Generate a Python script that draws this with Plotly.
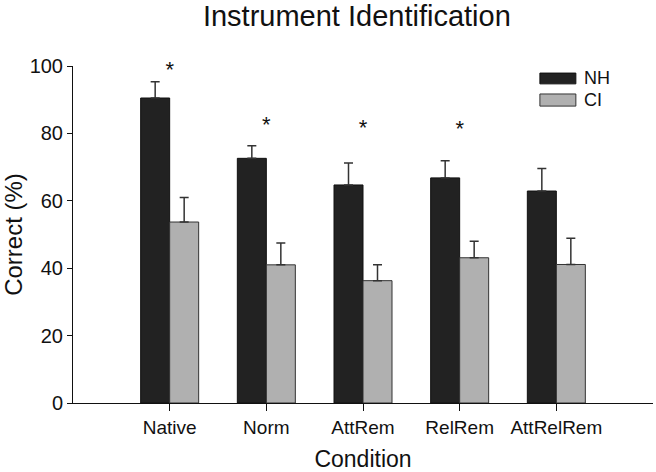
import plotly.graph_objects as go

categories = ["Native", "Norm", "AttRem", "RelRem", "AttRelRem"]
nh_values = [90.5, 72.6, 64.7, 66.8, 62.9]
nh_errors = [4.8, 3.7, 6.5, 5.1, 6.7]
ci_values = [53.7, 41.0, 36.3, 43.1, 41.1]
ci_errors = [7.3, 6.5, 4.7, 4.9, 7.8]
star_categories = ["Native", "Norm", "AttRem", "RelRem"]
star_heights = [98.4, 82.0, 81.3, 80.9]
y_ticks = [0, 20, 40, 60, 80, 100]

FONT = "Liberation Sans, Arial, sans-serif"
NH_COLOR = "#222222"
CI_COLOR = "#b0b0b0"

fig = go.Figure()
fig.add_trace(go.Bar(
    name="NH", x=categories, y=nh_values,
    marker=dict(color=NH_COLOR, line=dict(color="#111111", width=1)),
    error_y=dict(type="data", symmetric=False, array=nh_errors,
                 arrayminus=[0] * len(nh_errors), color="#333333",
                 thickness=1.5, width=4.5),
))
fig.add_trace(go.Bar(
    name="CI", x=categories, y=ci_values,
    marker=dict(color=CI_COLOR, line=dict(color="#333333", width=1)),
    error_y=dict(type="data", symmetric=False, array=ci_errors,
                 arrayminus=[0] * len(ci_errors), color="#333333",
                 thickness=1.5, width=4.5),
))
fig.add_trace(go.Scatter(
    x=star_categories, y=star_heights, mode="text", text=["*"] * len(star_categories),
    textfont=dict(family=FONT, size=22, color="#111111"),
    textposition="middle center", showlegend=False, hoverinfo="skip",
    cliponaxis=False,
))

# manual legend (wide swatches like the original)
legend_items = [("NH", NH_COLOR, "#111111", 0.979, 0.947),
                ("CI", CI_COLOR, "#333333", 0.917, 0.881)]
for label, fill, edge, y1, y0 in legend_items:
    fig.add_shape(type="rect", xref="paper", yref="paper",
                  x0=0.805, x1=0.867, y0=y0, y1=y1,
                  fillcolor=fill, line=dict(color=edge, width=1))
    fig.add_annotation(xref="paper", yref="paper", x=0.877, y=(y0 + y1) / 2,
                       text=label, showarrow=False, xanchor="left", yanchor="middle",
                       font=dict(family=FONT, size=18, color="#111111"))

fig.update_layout(
    width=656, height=472,
    margin=dict(l=73, r=3, t=66, b=69),
    paper_bgcolor="white", plot_bgcolor="white",
    barmode="group", bargap=0.4, bargroupgap=0,
    showlegend=False,
    font=dict(family=FONT, color="#111111"),
    title=dict(text="Instrument Identification", x=0.544, xanchor="center",
               y=0.966, yanchor="middle", yref="container",
               font=dict(family=FONT, size=29, color="#111111")),
    xaxis=dict(
        range=[-1, 5], showline=True, linecolor="#111111", linewidth=1,
        ticks="outside", ticklen=7, tickcolor="#111111", tickwidth=1,
        tickfont=dict(family=FONT, size=19, color="#111111"),
        showgrid=False, zeroline=False,
        title=dict(text="Condition", font=dict(family=FONT, size=23, color="#111111"),
                   standoff=14),
    ),
    yaxis=dict(
        range=[0, 100], tickvals=y_ticks, showline=True, linecolor="#111111", linewidth=1,
        ticks="outside", ticklen=5, tickcolor="#111111", tickwidth=1,
        tickfont=dict(family=FONT, size=20, color="#111111"),
        showgrid=False, zeroline=False,
        title=dict(text="Correct (%)", font=dict(family=FONT, size=24, color="#111111"),
                   standoff=8),
    ),
)

fig.write_html("out.html", config={"displayModeBar": False},
               post_script="document.body.style.margin='0';")
